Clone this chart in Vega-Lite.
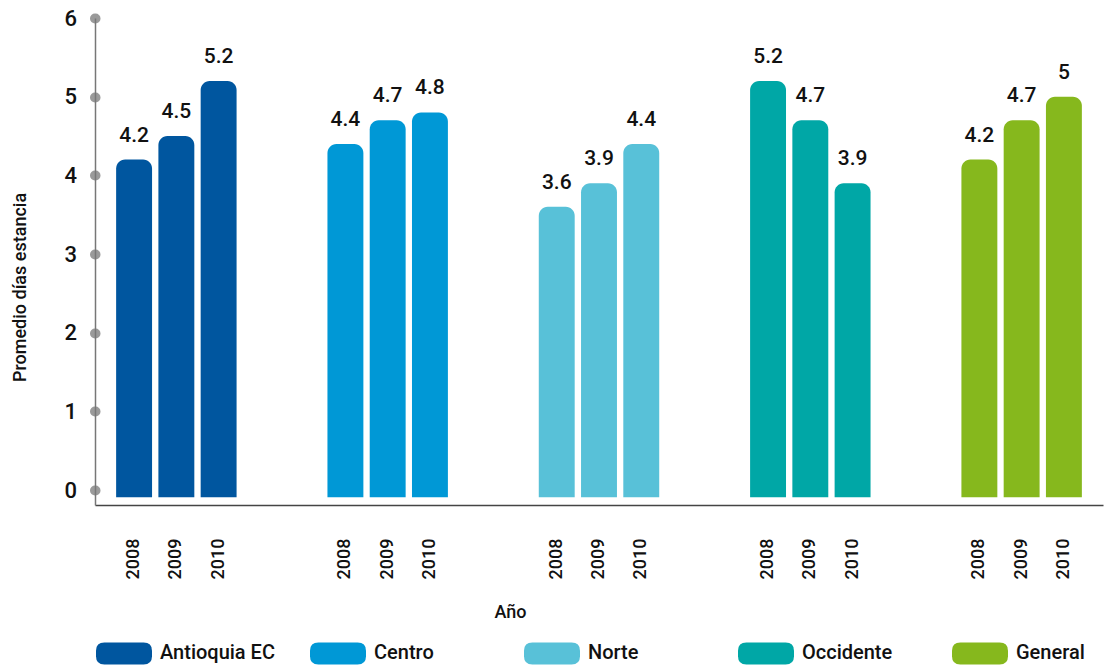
{
  "$schema": "https://vega.github.io/schema/vega-lite/v6.json",
  "autosize": {"type": "none"},
  "width": 1008,
  "height": 487,
  "padding": {"left": 95, "top": 18, "right": 7, "bottom": 163},
  "background": "white",
  "config": {
    "view": {"stroke": null},
    "font": "Roboto",
    "axis": {"labelFont": "Roboto", "titleFont": "Roboto", "grid": false}
  },
  "data": {
    "values": [
      {"region": "Antioquia EC", "anio": "2008", "clave": "Antioquia EC 2008", "valor": 4.2},
      {"region": "Antioquia EC", "anio": "2009", "clave": "Antioquia EC 2009", "valor": 4.5},
      {"region": "Antioquia EC", "anio": "2010", "clave": "Antioquia EC 2010", "valor": 5.2},
      {"region": "Centro", "anio": "2008", "clave": "Centro 2008", "valor": 4.4},
      {"region": "Centro", "anio": "2009", "clave": "Centro 2009", "valor": 4.7},
      {"region": "Centro", "anio": "2010", "clave": "Centro 2010", "valor": 4.8},
      {"region": "Norte", "anio": "2008", "clave": "Norte 2008", "valor": 3.6},
      {"region": "Norte", "anio": "2009", "clave": "Norte 2009", "valor": 3.9},
      {"region": "Norte", "anio": "2010", "clave": "Norte 2010", "valor": 4.4},
      {"region": "Occidente", "anio": "2008", "clave": "Occidente 2008", "valor": 5.2},
      {"region": "Occidente", "anio": "2009", "clave": "Occidente 2009", "valor": 4.7},
      {"region": "Occidente", "anio": "2010", "clave": "Occidente 2010", "valor": 3.9},
      {"region": "General", "anio": "2008", "clave": "General 2008", "valor": 4.2},
      {"region": "General", "anio": "2009", "clave": "General 2009", "valor": 4.7},
      {"region": "General", "anio": "2010", "clave": "General 2010", "valor": 5.0}
    ]
  },
  "encoding": {
    "x": {
      "field": "clave",
      "type": "nominal",
      "sort": null,
      "scale": {
        "domain": ["Antioquia EC 2008", "Antioquia EC 2009", "Antioquia EC 2010", "s1", "s2",
                   "Centro 2008", "Centro 2009", "Centro 2010", "s3", "s4",
                   "Norte 2008", "Norte 2009", "Norte 2010", "s5", "s6",
                   "Occidente 2008", "Occidente 2009", "Occidente 2010", "s7", "s8",
                   "General 2008", "General 2009", "General 2010"],
        "paddingInner": 0.15,
        "paddingOuter": 0.5
      },
      "axis": {
        "title": "Año",
        "titleFontSize": 18,
        "titleFontWeight": 500,
        "titleColor": "#111",
        "titleX": 415,
        "titleY": 107,
        "titleBaseline": "middle",
        "labelExpr": "length(datum.value) > 4 ? slice(datum.value, -4) : ''",
        "labelAngle": -90,
        "labelFontSize": 18,
        "labelFontWeight": 500,
        "labelColor": "#111",
        "labelPadding": 33,
        "ticks": false,
        "domainColor": "#444",
        "domainWidth": 1.5
      }
    },
    "y": {
      "type": "quantitative",
      "scale": {"domain": [-0.19, 6], "nice": false, "zero": false},
      "axis": {
        "values": [0, 1, 2, 3, 4, 5, 6],
        "title": "Promedio días estancia",
        "titleFontSize": 18,
        "titleFontWeight": 500,
        "titleColor": "#111",
        "titleX": -75,
        "titleY": 269,
        "titleAngle": -90,
        "titleAlign": "center",
        "titleBaseline": "middle",
        "labelFontSize": 22,
        "labelFontWeight": 500,
        "labelColor": "#111",
        "labelPadding": 18,
        "tickSize": 0.5,
        "tickWidth": 10,
        "tickCap": "round",
        "tickColor": "#9a9a9a",
        "domainColor": "#777",
        "domainWidth": 1.5
      }
    }
  },
  "layer": [
    {
      "mark": {"type": "bar", "cornerRadiusTopLeft": 9, "cornerRadiusTopRight": 9},
      "encoding": {
        "y": {"field": "valor", "type": "quantitative"},
        "y2": {"datum": -0.09},
        "color": {
          "field": "region",
          "type": "nominal",
          "sort": null,
          "scale": {
            "domain": ["Antioquia EC", "Centro", "Norte", "Occidente", "General"],
            "range": ["#00569F", "#0098D6", "#58C1D8", "#00A7A6", "#86B81D"]
          },
          "legend": {
            "title": null,
            "orient": "none",
            "legendX": 1,
            "legendY": 607,
            "direction": "horizontal",
            "columns": 5,
            "gridAlign": "all",
            "columnPadding": 35,
            "symbolType": "M-0.7,-0.393 L0.7,-0.393 Q1,-0.393 1,-0.1 L1,0.1 Q1,0.393 0.7,0.393 L-0.7,0.393 Q-1,0.393 -1,0.1 L-1,-0.1 Q-1,-0.393 -0.7,-0.393 Z",
            "symbolSize": 3136,
            "symbolStrokeWidth": 0,
            "symbolOpacity": 1,
            "labelFontSize": 20,
            "labelFontWeight": 500,
            "labelColor": "#111",
            "labelFont": "Roboto",
            "labelOffset": 8,
            "labelLimit": 200
          }
        }
      }
    },
    {
      "mark": {"type": "text", "baseline": "middle", "dy": -24, "fontSize": 21, "fontWeight": 500, "color": "#111", "font": "Roboto"},
      "encoding": {
        "y": {"field": "valor", "type": "quantitative"},
        "text": {"field": "valor", "type": "quantitative", "format": ".1~f"}
      }
    }
  ]
}
